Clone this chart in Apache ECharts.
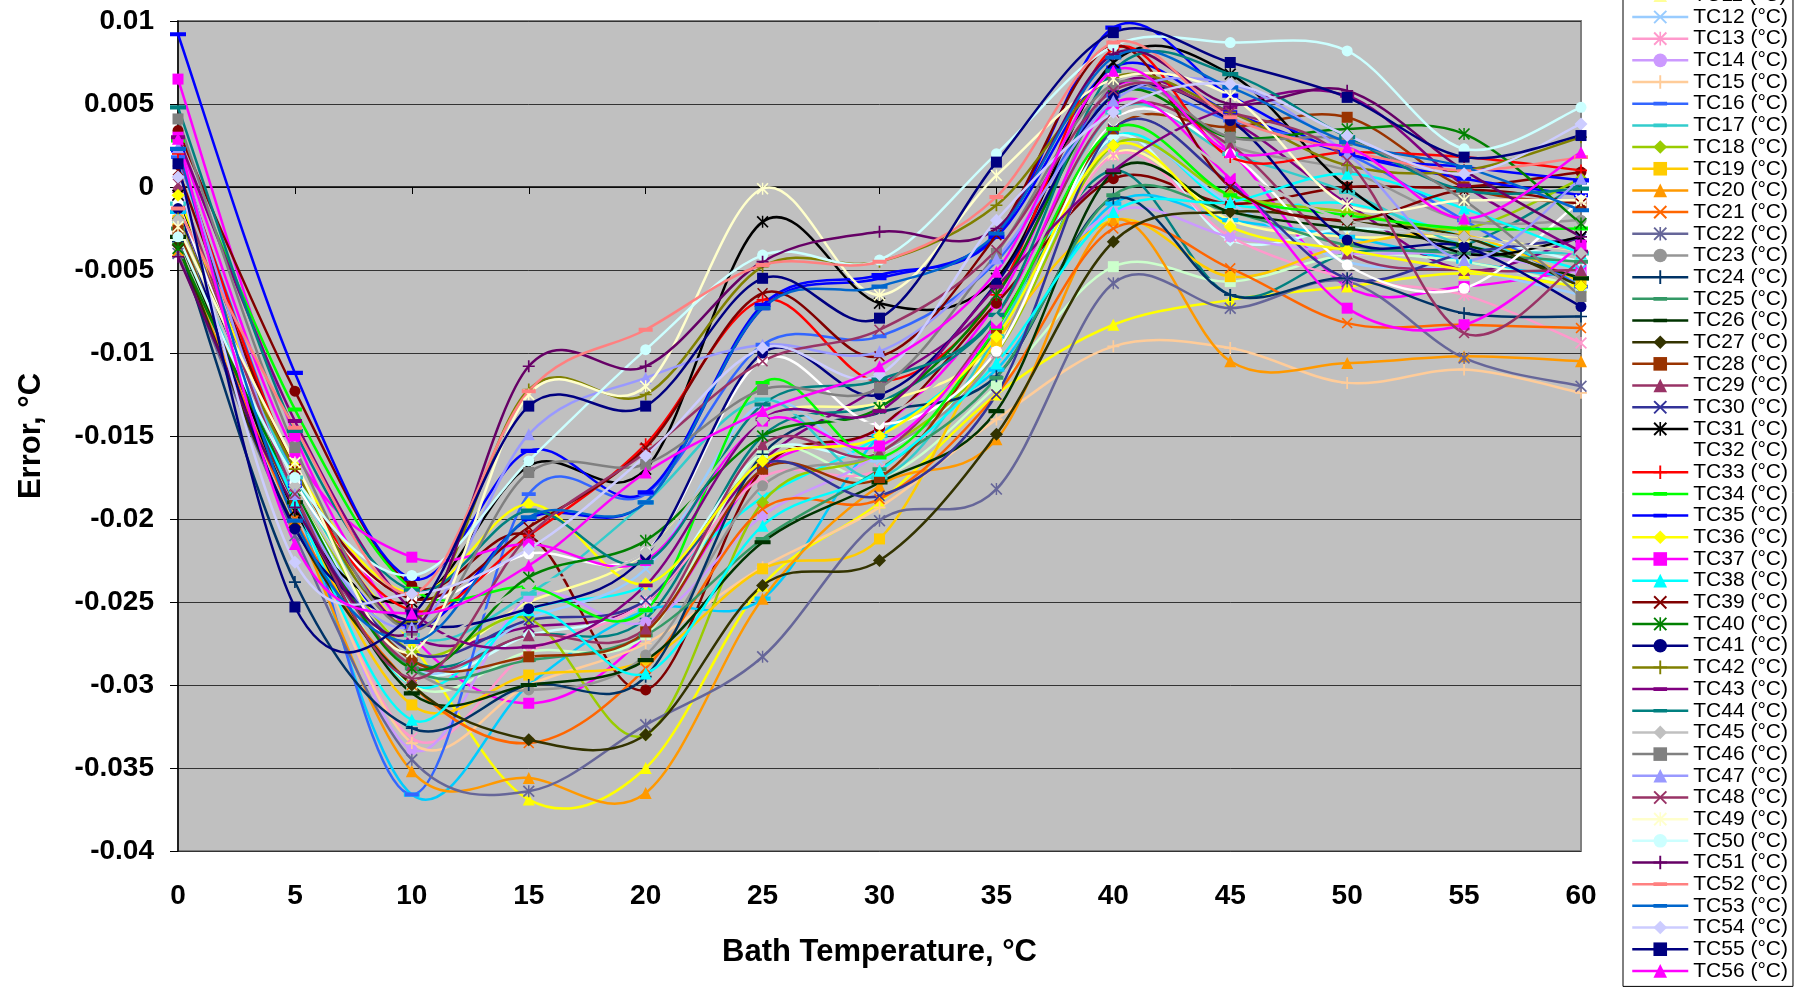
<!DOCTYPE html>
<html>
<head>
<meta charset="utf-8">
<script src="https://cdn.jsdelivr.net/npm/echarts@6/dist/echarts.min.js"></script>
<style>
  html, body { margin: 0; padding: 0; background: #fff; }
  #chart { width: 1799px; height: 989px; }
</style>
</head>
<body>
<div id="chart"></div>
<script>
// bath temperatures (x axis, °C)
const bathTemps = [0, 5, 10, 15, 20, 25, 30, 35, 40, 45, 50, 55, 60];

// error of each thermocouple at those bath temperatures, °C
const tc1  = [0.0065, -0.0150, -0.0270, -0.0311, -0.0270, -0.0170, -0.0145, -0.0070, 0.0060, 0.0021, -0.0060, -0.0060, -0.0050];
const tc2  = [-0.0022, -0.0180, -0.0275, -0.0369, -0.0350, -0.0240, -0.0190, -0.0125, -0.0083, -0.0068, -0.0060, -0.0052, -0.0060];
const tc3  = [-0.0018, -0.0185, -0.0300, -0.0255, -0.0240, -0.0187, -0.0150, -0.0090, 0.0030, -0.0010, -0.0010, -0.0030, -0.0050];
const tc4  = [-0.0005, -0.0170, -0.0270, -0.0265, -0.0250, -0.0165, -0.0120, -0.0065, 0.0060, 0.0040, -0.0010, -0.0050, -0.0030];
const tc5  = [0.0034, -0.0123, -0.0240, -0.0210, -0.0303, -0.0170, -0.0145, -0.0070, 0.0005, -0.0010, 0.0000, 0.0000, 0.0009];
const tc6  = [-0.0020, -0.0183, -0.0285, -0.0270, -0.0260, -0.0150, -0.0130, -0.0080, 0.0010, -0.0065, -0.0040, -0.0035, 0.0002];
const tc7  = [0.0022, -0.0180, -0.0265, -0.0200, -0.0190, -0.0073, -0.0055, -0.0030, 0.0072, 0.0045, 0.0020, 0.0005, -0.0005];
const tc8  = [-0.0015, -0.0190, -0.0366, -0.0300, -0.0255, -0.0248, -0.0150, -0.0110, -0.0010, -0.0020, -0.0030, -0.0045, -0.0055];
const tc9  = [-0.0020, -0.0180, -0.0290, -0.0270, -0.0250, -0.0160, -0.0160, -0.0100, 0.0030, -0.0032, -0.0025, -0.0030, -0.0045];
const tc10 = [-0.0030, -0.0190, -0.0300, -0.0280, -0.0270, -0.0160, -0.0175, -0.0120, -0.0048, -0.0057, -0.0041, -0.0045, -0.0060];
const tc11 = [-0.0020, -0.0175, -0.0280, -0.0250, -0.0220, -0.0140, -0.0130, -0.0095, 0.0020, -0.0020, -0.0030, -0.0030, -0.0040];
const tc12 = [-0.0010, -0.0175, -0.0290, -0.0260, -0.0230, -0.0130, -0.0165, -0.0100, 0.0025, -0.0010, -0.0045, -0.0050, -0.0065];
const tc13 = [-0.0015, -0.0185, -0.0332, -0.0280, -0.0250, -0.0175, -0.0170, -0.0100, 0.0019, -0.0030, -0.0055, -0.0065, -0.0094];
const tc14 = [-0.0020, -0.0180, -0.0339, -0.0247, -0.0262, -0.0198, -0.0160, -0.0090, -0.0015, -0.0030, -0.0040, -0.0040, -0.0052];
const tc15 = [-0.0025, -0.0190, -0.0335, -0.0300, -0.0275, -0.0229, -0.0193, -0.0140, -0.0096, -0.0097, -0.0118, -0.0110, -0.0124];
const tc16 = [0.0018, -0.0178, -0.0366, -0.0185, -0.0185, -0.0095, -0.0090, -0.0045, 0.0055, 0.0040, 0.0020, -0.0020, -0.0060];
const tc17 = [-0.0010, -0.0175, -0.0270, -0.0245, -0.0190, -0.0128, -0.0175, -0.0090, 0.0045, 0.0020, -0.0003, -0.0035, -0.0040];
const tc18 = [-0.0030, -0.0180, -0.0280, -0.0260, -0.0330, -0.0190, -0.0160, -0.0100, 0.0025, -0.0005, -0.0015, -0.0025, 0.0005];
const tc19 = [-0.0020, -0.0190, -0.0312, -0.0294, -0.0285, -0.0230, -0.0212, -0.0093, -0.0020, -0.0054, -0.0035, -0.0029, -0.0057];
const tc20 = [-0.0038, -0.0200, -0.0352, -0.0356, -0.0365, -0.0248, -0.0180, -0.0152, -0.0020, -0.0105, -0.0106, -0.0102, -0.0105];
const tc21 = [-0.0024, -0.0200, -0.0300, -0.0335, -0.0290, -0.0194, -0.0188, -0.0125, -0.0025, -0.0049, -0.0082, -0.0083, -0.0085];
const tc22 = [-0.0040, -0.0210, -0.0345, -0.0364, -0.0324, -0.0283, -0.0201, -0.0182, -0.0058, -0.0073, -0.0057, -0.0103, -0.0120];
const tc23 = [-0.0020, -0.0190, -0.0290, -0.0303, -0.0282, -0.0180, -0.0160, -0.0100, 0.0063, 0.0025, 0.0010, -0.0020, -0.0020];
const tc24 = [-0.0033, -0.0238, -0.0326, -0.0300, -0.0295, -0.0161, -0.0136, -0.0114, -0.0007, -0.0065, -0.0055, -0.0076, -0.0078];
const tc25 = [-0.0025, -0.0190, -0.0290, -0.0285, -0.0270, -0.0212, -0.0170, -0.0115, -0.0005, -0.0015, -0.0035, -0.0040, -0.0045];
const tc26 = [-0.0030, -0.0190, -0.0305, -0.0300, -0.0285, -0.0214, -0.0178, -0.0135, 0.0009, -0.0015, -0.0025, -0.0035, -0.0055];
const tc27 = [-0.0035, -0.0205, -0.0300, -0.0333, -0.0330, -0.0240, -0.0225, -0.0149, -0.0033, -0.0015, -0.0021, -0.0030, -0.0060];
const tc28 = [-0.0026, -0.0190, -0.0285, -0.0283, -0.0268, -0.0170, -0.0175, -0.0085, 0.0035, 0.0036, 0.0042, 0.0000, -0.0010];
const tc29 = [0.0000, -0.0190, -0.0288, -0.0270, -0.0266, -0.0155, -0.0160, -0.0080, 0.0045, 0.0025, -0.0040, -0.0050, -0.0050];
const tc30 = [-0.0010, -0.0190, -0.0280, -0.0261, -0.0249, -0.0167, -0.0186, -0.0125, 0.0035, 0.0002, -0.0055, -0.0040, -0.0031];
const tc31 = [-0.0005, -0.0195, -0.0250, -0.0168, -0.0170, -0.0021, -0.0070, -0.0055, 0.0075, 0.0068, 0.0000, -0.0040, -0.0030];
const tc32 = [-0.0010, -0.0178, -0.0248, -0.0221, -0.0220, -0.0104, -0.0143, -0.0099, 0.0040, 0.0020, -0.0047, -0.0061, -0.0008];
const tc33 = [0.0020, -0.0170, -0.0255, -0.0210, -0.0155, -0.0068, -0.0117, -0.0065, 0.0083, 0.0018, 0.0021, 0.0018, 0.0010];
const tc34 = [0.0028, -0.0134, -0.0242, -0.0241, -0.0255, -0.0118, -0.0163, -0.0085, 0.0035, -0.0005, -0.0017, -0.0025, -0.0025];
const tc35 = [0.0092, -0.0112, -0.0236, -0.0159, -0.0184, -0.0071, -0.0053, -0.0030, 0.0096, 0.0055, 0.0020, 0.0012, 0.0004];
const tc36 = [-0.0005, -0.0168, -0.0245, -0.0191, -0.0239, -0.0165, -0.0150, -0.0090, 0.0025, -0.0024, -0.0038, -0.0050, -0.0060];
const tc37 = [0.0030, -0.0160, -0.0223, -0.0215, -0.0225, -0.0141, -0.0156, -0.0082, 0.0050, 0.0005, -0.0073, -0.0083, -0.0035];
const tc38 = [-0.0018, -0.0190, -0.0321, -0.0255, -0.0293, -0.0204, -0.0171, -0.0106, -0.0015, -0.0009, 0.0008, -0.0013, -0.0040];
const tc39 = [0.0010, -0.0170, -0.0248, -0.0205, -0.0157, -0.0064, -0.0102, -0.0029, 0.0085, 0.0000, -0.0020, -0.0002, -0.0010];
const tc40 = [-0.0037, -0.0183, -0.0290, -0.0235, -0.0213, -0.0150, -0.0133, -0.0065, 0.0055, 0.0030, 0.0035, 0.0032, -0.0022];
const tc41 = [-0.0013, -0.0206, -0.0262, -0.0254, -0.0222, -0.0100, -0.0125, -0.0058, 0.0055, 0.0040, -0.0032, -0.0036, -0.0072];
const tc42 = [-0.0019, -0.0170, -0.0262, -0.0122, -0.0125, -0.0048, -0.0045, -0.0011, 0.0066, 0.0045, 0.0013, 0.0010, 0.0030];
const tc43 = [0.0030, -0.0141, -0.0255, -0.0277, -0.0240, -0.0140, -0.0135, -0.0060, 0.0010, 0.0048, 0.0055, 0.0001, -0.0039];
const tc44 = [0.0048, -0.0147, -0.0243, -0.0195, -0.0226, -0.0131, -0.0116, -0.0077, 0.0070, 0.0068, 0.0030, -0.0002, -0.0001];
const tc45 = [-0.0020, -0.0180, -0.0270, -0.0240, -0.0220, -0.0140, -0.0140, -0.0080, 0.0040, 0.0010, -0.0020, -0.0030, -0.0040];
const tc46 = [0.0041, -0.0157, -0.0267, -0.0172, -0.0167, -0.0122, -0.0121, -0.0040, 0.0062, 0.0030, 0.0028, -0.0008, -0.0066];
const tc47 = [0.0024, -0.0185, -0.0265, -0.0149, -0.0115, -0.0095, -0.0099, -0.0043, 0.0052, 0.0062, 0.0020, -0.0044, 0.0005];
const tc48 = [0.0002, -0.0185, -0.0296, -0.0210, -0.0160, -0.0105, -0.0086, -0.0038, 0.0058, 0.0045, 0.0016, -0.0088, -0.0044];
const tc49 = [-0.0024, -0.0166, -0.0280, -0.0125, -0.0120, -0.0001, -0.0065, 0.0007, 0.0065, 0.0055, -0.0011, -0.0008, -0.0008];
const tc50 = [-0.0030, -0.0175, -0.0234, -0.0165, -0.0098, -0.0041, -0.0044, 0.0020, 0.0085, 0.0087, 0.0082, 0.0023, 0.0048];
const tc51 = [-0.0042, -0.0193, -0.0268, -0.0108, -0.0108, -0.0045, -0.0027, -0.0025, 0.0080, 0.0050, 0.0058, 0.0010, -0.0030];
const tc52 = [-0.0013, -0.0145, -0.0245, -0.0123, -0.0086, -0.0047, -0.0045, -0.0006, 0.0087, 0.0042, 0.0022, 0.0010, 0.0018];
const tc53 = [0.0023, -0.0201, -0.0274, -0.0199, -0.0190, -0.0073, -0.0060, -0.0028, 0.0078, 0.0060, 0.0027, 0.0012, -0.0014];
const tc54 = [0.0006, -0.0226, -0.0245, -0.0218, -0.0162, -0.0097, -0.0113, -0.0020, 0.0045, 0.0062, 0.0031, 0.0008, 0.0038];
const tc55 = [0.0014, -0.0253, -0.0258, -0.0132, -0.0132, -0.0055, -0.0079, 0.0015, 0.0093, 0.0075, 0.0054, 0.0018, 0.0031];
const tc56 = [0.0029, -0.0215, -0.0257, -0.0228, -0.0172, -0.0135, -0.0108, -0.0051, 0.0070, 0.0021, 0.0024, -0.0019, 0.0021];

const thermocouples = [tc1, tc2, tc3, tc4, tc5, tc6, tc7, tc8, tc9, tc10, tc11, tc12, tc13, tc14,
  tc15, tc16, tc17, tc18, tc19, tc20, tc21, tc22, tc23, tc24, tc25, tc26, tc27, tc28, tc29, tc30,
  tc31, tc32, tc33, tc34, tc35, tc36, tc37, tc38, tc39, tc40, tc41, tc42, tc43, tc44, tc45, tc46,
  tc47, tc48, tc49, tc50, tc51, tc52, tc53, tc54, tc55, tc56];

// y axis ticks
const yMin = -0.04, yMax = 0.01, yStep = 0.005;

// excel palette order, TC1..TC56
const colors = [
  "#FF00FF", "#FFFF00", "#00FFFF", "#800080", "#800000", "#008080", "#0000FF", "#00CCFF",
  "#CCFFFF", "#CCFFCC", "#FFFF99", "#99CCFF", "#FF99CC", "#CC99FF", "#FFCC99", "#3366FF",
  "#33CCCC", "#99CC00", "#FFCC00", "#FF9900", "#FF6600", "#666699", "#969696", "#003366",
  "#339966", "#003300", "#333300", "#993300", "#993366", "#333399", "#000000", "#FFFFFF",
  "#FF0000", "#00FF00", "#0000FF", "#FFFF00", "#FF00FF", "#00FFFF", "#800000", "#008000",
  "#000080", "#808000", "#800080", "#008080", "#C0C0C0", "#808080", "#9999FF", "#993366",
  "#FFFFCC", "#CCFFFF", "#660066", "#FF8080", "#0066CC", "#CCCCFF", "#000080", "#FF00FF"
];

// marker cycle: diamond, square, triangle, x, star, circle, plus, short dash, long dash
// (tiny corner specks keep the dash paths in a square box so they don't get stretched)
const SPECKS = "M5,0L5.01,0L5,0.01ZM5,10L5.01,10L5,9.99Z";
const X_PATH = "path://M0,1L1,0L5,4L9,0L10,1L6,5L10,9L9,10L5,6L1,10L0,9L4,5Z";
const STAR_PATH = "path://M0,1L1,0L5,4L9,0L10,1L6,5L10,9L9,10L5,6L1,10L0,9L4,5ZM4.4,0H5.6V10H4.4Z";
const PLUS_PATH = "path://M4.3,0H5.7V4.3H10V5.7H5.7V10H4.3V5.7H0V4.3H4.3Z";
const SHORT_DASH = "path://M2,3.6H8V6.4H2Z" + SPECKS;
const LONG_DASH = "path://M0,3.7H10V6.3H0Z" + SPECKS;
const markers = [
  { symbol: "diamond", size: 13 },
  { symbol: "rect", size: 11 },
  { symbol: "triangle", size: 12 },
  { symbol: X_PATH, size: 11 },
  { symbol: STAR_PATH, size: 12 },
  { symbol: "circle", size: 11 },
  { symbol: PLUS_PATH, size: 12 },
  { symbol: SHORT_DASH, size: 14 },
  { symbol: LONG_DASH, size: 16 },
];

const chart = echarts.init(document.getElementById("chart"));

// smoothed curve like excel: bezier segments, control points at 1/6 of neighbour spread
const curveSeries = (vals, color) => ({
  type: "custom",
  name: "curve",
  silent: true,
  data: [[bathTemps[0], vals[0]]],
  renderItem: (params, api) => {
    const pts = bathTemps.map((t, k) => api.coord([t, vals[k]]));
    const last = pts.length - 1;
    const children = [];
    for (let k = 0; k < last; k++) {
      const p0 = pts[Math.max(k - 1, 0)];
      const p1 = pts[k];
      const p2 = pts[k + 1];
      const p3 = pts[Math.min(k + 2, last)];
      children.push({
        type: "bezierCurve",
        shape: {
          x1: p1[0], y1: p1[1],
          x2: p2[0], y2: p2[1],
          cpx1: p1[0] + (p2[0] - p0[0]) / 6,
          cpy1: p1[1] + (p2[1] - p0[1]) / 6,
          cpx2: p2[0] - (p3[0] - p1[0]) / 6,
          cpy2: p2[1] - (p3[1] - p1[1]) / 6,
        },
        style: { stroke: color, lineWidth: 2.5, fill: "none" },
      });
    }
    return { type: "group", children };
  },
});

const series = [];
thermocouples.forEach((vals, i) => {
  const n = i + 1;
  const m = markers[n % 9];
  series.push(curveSeries(vals, colors[i]));
  series.push({
    name: "TC" + n + " (°C)",
    type: "line",
    symbol: m.symbol,
    symbolSize: m.size,
    showSymbol: true,
    lineStyle: { width: 2.5, color: colors[i], opacity: 0 },
    itemStyle: { color: colors[i], borderWidth: 0 },
    data: bathTemps.map((t, k) => [t, vals[k]]),
  });
});

const option = {
  animation: false,
  backgroundColor: "#ffffff",
  textStyle: { fontFamily: "Liberation Sans, Arial, sans-serif" },
  grid: {
    left: 178,
    right: 218,
    top: 21,
    bottom: 138,
    show: true,
    backgroundColor: "#C0C0C0",
    borderColor: "#808080",
    borderWidth: 2,
  },
  xAxis: {
    type: "value",
    min: 0,
    max: 60,
    interval: 5,
    name: "Bath Temperature, °C",
    nameLocation: "middle",
    nameGap: 86,
    nameTextStyle: { fontSize: 31, fontWeight: "bold", color: "#000" },
    axisLine: { show: true, lineStyle: { color: "#000", width: 1.5 } },
    axisTick: { show: true, inside: false, length: 7, lineStyle: { color: "#000" } },
    axisLabel: { fontSize: 28, fontWeight: "bold", color: "#000", margin: 31 },
    splitLine: { show: false },
  },
  yAxis: {
    type: "value",
    min: yMin,
    max: yMax,
    interval: yStep,
    name: "Error, °C",
    nameLocation: "middle",
    nameRotate: 90,
    nameGap: 131,
    nameTextStyle: { fontSize: 31, fontWeight: "bold", color: "#000" },
    axisLine: { show: true, lineStyle: { color: "#000", width: 1.5 } },
    axisTick: { show: true, inside: false, length: 8, lineStyle: { color: "#000" } },
    axisLabel: {
      fontSize: 28,
      fontWeight: "bold",
      color: "#000",
      margin: 24,
      formatter: (v) => String(parseFloat(v.toFixed(3))),
    },
    splitLine: { show: true, lineStyle: { color: "#333", width: 1 } },
  },
  legend: {
    orient: "vertical",
    left: 1623,
    top: -237,
    width: 169,
    height: 1216,
    padding: [5, 5, 5, 8],
    itemWidth: 56,
    itemHeight: 17,
    itemGap: 0.68,
    selectedMode: false,
    borderColor: "#000",
    borderWidth: 1,
    backgroundColor: "#fff",
    lineStyle: { opacity: 1, width: 2.5 },
    textStyle: { fontSize: 21, lineHeight: 20, color: "#000", fontFamily: "Liberation Sans, Arial, sans-serif" },
    data: thermocouples.map((v, i) => "TC" + (i + 1) + " (°C)"),
  },
  series: series,
};

chart.setOption(option);
</script>
</body>
</html>
